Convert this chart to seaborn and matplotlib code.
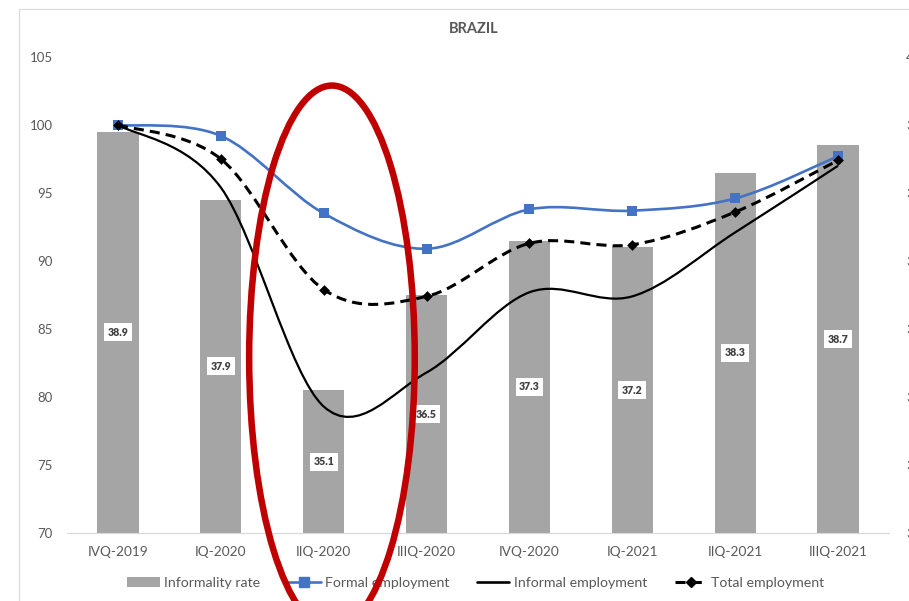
import numpy as np
import matplotlib
matplotlib.use("Agg")
import matplotlib.pyplot as plt
from matplotlib.path import Path
from matplotlib.patches import PathPatch, Patch, Ellipse, Rectangle
from matplotlib.lines import Line2D
import seaborn as sns

# Quarterly series (index, IVQ-2019 = 100) and informality rate (%)
quarters = ["IVQ-2019", "IQ-2020", "IIQ-2020", "IIIQ-2020",
            "IVQ-2020", "IQ-2021", "IIQ-2021", "IIIQ-2021"]
informality_rate = [38.9, 37.9, 35.1, 36.5, 37.3, 37.2, 38.3, 38.7]
formal_employment = [100.0, 99.2, 93.5, 90.9, 93.8, 93.7, 94.6, 97.7]
informal_employment = [100.0, 95.4, 79.3, 81.8, 87.7, 87.4, 92.1, 97.0]
total_employment = [100.0, 97.5, 87.9, 87.4, 91.3, 91.2, 93.6, 97.4]

left_ticks = [70, 75, 80, 85, 90, 95, 100, 105]
right_ticks = [33, 34, 35, 36, 37, 38, 39, 40]

GRAY_TXT = "#595959"
BAR_C = "#A5A5A5"
BLUE = "#4472C4"
RED = "#C00000"

sns.set_theme(style="white")
plt.rcParams["font.family"] = ["Lato", "DejaVu Sans"]


def smooth_path(xs, ys):
    """Bezier path through the points (Catmull-Rom style smoothing)."""
    pts = np.column_stack([xs, ys]).astype(float)
    n = len(pts)
    verts = [pts[0]]
    codes = [Path.MOVETO]
    for i in range(n - 1):
        p0 = pts[max(i - 1, 0)]
        p1 = pts[i]
        p2 = pts[i + 1]
        p3 = pts[min(i + 2, n - 1)]
        verts += [p1 + (p2 - p0) / 6.0, p2 - (p3 - p1) / 6.0, p2]
        codes += [Path.CURVE4] * 3
    return Path(verts, codes)


W, H = 909, 601
fig = plt.figure(figsize=(W / 100, H / 100), dpi=100)
fig.patch.set_facecolor("white")

# outer chart frame
fig.add_artist(Rectangle((19 / W, -0.05), 1.2, 1 - 9 / H + 0.05,
                         transform=fig.transFigure, fill=False,
                         edgecolor="#D9D9D9", linewidth=0.8))

ax_bar = fig.add_axes([66.6 / W, 1 - 533 / H, 822.8 / W, 476 / H])
x = np.arange(len(quarters))

# Informality rate bars (right axis)
sns.barplot(x=quarters, y=informality_rate, ax=ax_bar, color=BAR_C,
            saturation=1, width=0.4, edgecolor="none", zorder=1)
ax_bar.set_ylim(33, 40)
ax_bar.set_xlim(-0.5, len(quarters) - 0.5)
for i, v in enumerate(informality_rate):
    ax_bar.text(i, (33 + v) / 2, f"{v:.1f}", ha="center", va="center",
                fontsize=7.6, fontweight="heavy", color="#404040", zorder=3,
                bbox=dict(boxstyle="square,pad=0.33", facecolor="white",
                          edgecolor="none"))

# Employment indices (left axis)
ax_line = ax_bar.twinx()
ax_line.set_ylim(70, 105)
ax_bar.yaxis.tick_right()
ax_line.yaxis.tick_left()

ax_line.add_patch(PathPatch(smooth_path(x, formal_employment), fill=False,
                            edgecolor=BLUE, linewidth=1.9, zorder=2))
sns.scatterplot(x=x, y=formal_employment, ax=ax_line, marker="s", s=56,
                color=BLUE, linewidth=0, zorder=3, legend=False)
ax_line.add_patch(PathPatch(smooth_path(x, informal_employment), fill=False,
                            edgecolor="black", linewidth=1.6, zorder=4))
ax_line.add_patch(PathPatch(smooth_path(x, total_employment), fill=False,
                            edgecolor="black", linewidth=2.2,
                            linestyle=(0, (3.3, 2.0)), zorder=5))
sns.scatterplot(x=x, y=total_employment, ax=ax_line, marker="D", s=30,
                color="black", linewidth=0, zorder=6, legend=False)

# axes styling
for a in (ax_bar, ax_line):
    for side in ("top", "left", "right", "bottom"):
        a.spines[side].set_visible(False)
    a.grid(False)
    a.set_xlabel("")
    a.set_ylabel("")
ax_bar.spines["bottom"].set_visible(True)
ax_bar.spines["bottom"].set_color("#D9D9D9")
ax_bar.spines["bottom"].set_linewidth(0.8)

ax_bar.set_xticks(x)
ax_bar.set_xticklabels(quarters)
ax_bar.tick_params(axis="x", length=0, pad=9, labelsize=9.8,
                   labelcolor=GRAY_TXT)
ax_bar.set_yticks(right_ticks)
ax_bar.tick_params(axis="y", length=0, pad=12, labelsize=9.5,
                   labelcolor=GRAY_TXT)
ax_line.set_yticks(left_ticks)
ax_line.tick_params(axis="y", length=0, pad=9.8, labelsize=9.5,
                    labelcolor=GRAY_TXT)

fig.text(473.7 / W, 1 - 29 / H, "BRAZIL", ha="center", va="center",
         fontsize=10.5, fontweight="bold", color=GRAY_TXT)

handles = [
    Patch(facecolor=BAR_C, edgecolor="none"),
    Line2D([], [], color=BLUE, linewidth=1.9, marker="s", markersize=7),
    Line2D([], [], color="black", linewidth=1.9),
    Line2D([], [], color="black", linewidth=2.2, linestyle=(0, (3.3, 2.0)),
           marker="D", markersize=5.2),
]
labels = ["Informality rate", "Formal employment", "Informal employment",
          "Total employment"]
leg = ax_line.legend(handles, labels, loc="center", ncol=4, frameon=False,
                     bbox_to_anchor=(476 / W, 1 - 583 / H),
                     bbox_transform=fig.transFigure, fontsize=10.2,
                     handlelength=2.3, handletextpad=0.3, columnspacing=1.95,
                     handleheight=0.65, labelcolor=GRAY_TXT)

# highlight around the second quarter of 2020
ax_line.add_patch(Ellipse((2.08, 82.9), 1.61, 40, fill=False, edgecolor=RED,
                          linewidth=4.7, zorder=20, clip_on=False))

fig.savefig("out.png", dpi=100, facecolor="white")
